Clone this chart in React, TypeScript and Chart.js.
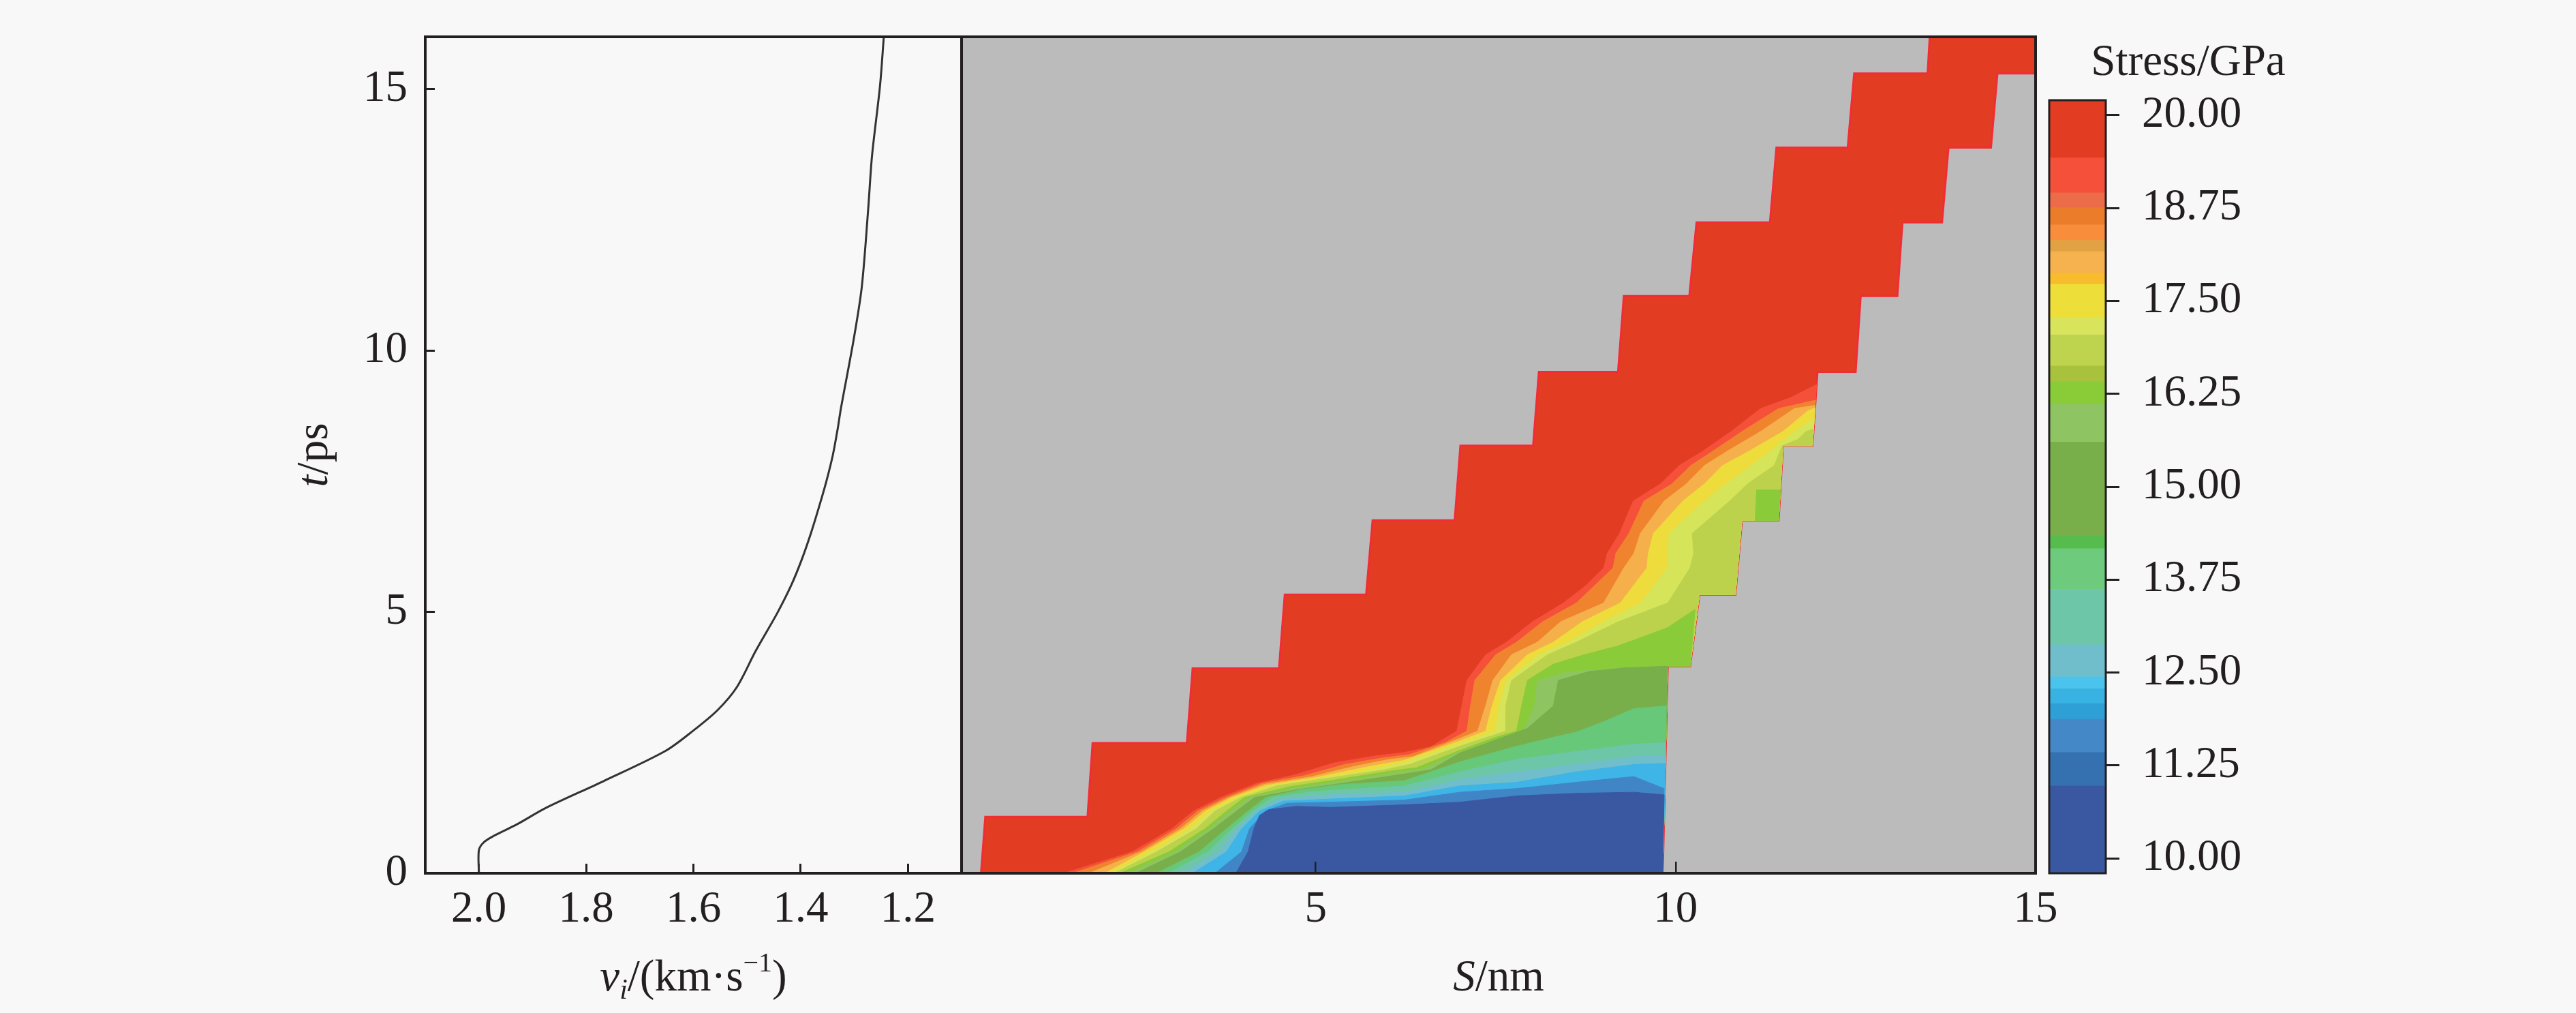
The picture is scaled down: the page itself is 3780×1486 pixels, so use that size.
import React, { useEffect, useRef } from 'react';
import { Chart, registerables } from 'chart.js';

Chart.register(...registerables);

const FONT = "'Liberation Serif', 'Times New Roman', Times, serif";
const FS = 65;
const INK = '#231f20';
const PAGE_BG = '#f8f8f8';
const GRAY = '#bbbbbb';

type Pt = [number, number];

// ---------- left panel: interface velocity v_i (km/s) vs t (ps) ----------
const velocity = [2.0, 2.0, 1.991, 1.973, 1.93, 1.875, 1.768, 1.652, 1.6, 1.555, 1.519, 1.484, 1.444, 1.418, 1.398, 1.381, 1.366, 1.352, 1.34, 1.331, 1.325, 1.301, 1.286, 1.274, 1.267, 1.252, 1.245];
const velTime = [0, 0.44, 0.59, 0.71, 0.93, 1.25, 1.76, 2.34, 2.73, 3.12, 3.56, 4.25, 4.97, 5.5, 6.0, 6.5, 7.0, 7.5, 8.0, 8.5, 8.89, 10.22, 11.22, 12.72, 13.72, 15.07, 16.0];
const velTicks = [2.0, 1.8, 1.6, 1.4, 1.2];
const timeTicks = [0, 5, 10, 15];
const sTicks = [5, 10, 15];
const stressTicks = [10, 11.25, 12.5, 13.75, 15, 16.25, 17.5, 18.75, 20];

// ---------- colour bar bands (GPa) ----------
const bandHigh = [20.2, 19.43, 18.96, 18.76, 18.53, 18.32, 18.17, 17.88, 17.73, 17.28, 17.05, 16.63, 16.42, 16.12, 15.61, 14.34, 14.17, 13.62, 12.88, 12.45, 12.29, 12.09, 11.88, 11.43, 10.98];
const bandLow = [19.43, 18.96, 18.76, 18.53, 18.32, 18.17, 17.88, 17.73, 17.28, 17.05, 16.63, 16.42, 16.12, 15.61, 14.34, 14.17, 13.62, 12.88, 12.45, 12.29, 12.09, 11.88, 11.43, 10.98, 9.8];
const bandColors = ['#E23D22', '#F5503A', '#EC6C4A', '#EA7C2A', '#F88E3C', '#E2A244', '#F6B24E', '#F8BC2C', '#EEDE3A', '#D8E45C', '#BFD44E', '#A9C23E', '#8ACB38', '#8EC562', '#79AF4B', '#56BC4E', '#6ECB7E', '#6EC6A8', '#70BECB', '#4AC4EC', '#38B2E2', '#2FA0D6', '#4488C8', '#3570B0', '#3A58A2'];

// ---------- stress map: material region (S nm, t ps) ----------
const materialRegion: Pt[] = [
  [0.35, 0], [0.41, 1.08], [1.83, 1.08], [1.90, 2.49], [3.21, 2.49], [3.29, 3.92], [4.49, 3.92], [4.57, 5.33],
  [5.70, 5.33], [5.79, 6.75], [6.93, 6.75], [7.01, 8.18], [8.02, 8.18], [8.10, 9.59], [9.20, 9.59], [9.28, 11.04],
  [10.19, 11.04], [10.29, 12.45], [11.31, 12.45], [11.40, 13.88], [12.39, 13.88], [12.48, 15.30], [13.50, 15.30],
  [13.53, 16], [15, 16], [15, 15.30], [14.47, 15.30], [14.38, 13.88], [13.79, 13.88], [13.70, 12.45], [13.15, 12.45],
  [13.08, 11.04], [12.57, 11.04], [12.50, 9.59], [11.97, 9.59], [11.90, 8.18], [11.49, 8.18], [11.43, 6.75],
  [10.92, 6.75], [10.83, 5.33], [10.33, 5.33], [10.20, 3.96], [9.89, 3.96], [9.82, 0],
];
const rightBoundary: Pt[] = [
  [11.97, 9.59], [11.90, 8.18], [11.49, 8.18], [11.43, 6.75], [10.92, 6.75], [10.83, 5.33], [10.33, 5.33], [10.20, 3.96], [9.89, 3.96], [9.82, 0],
];

// contour lines (lower-right side = lower stress)
const cRedOrange: Pt[] = [[1.50, 0], [2.45, 0.41], [3.0, 0.85], [3.30, 1.19], [3.68, 1.45], [4.18, 1.72], [4.73, 1.89], [5.25, 2.11], [5.8, 2.24], [6.23, 2.31], [6.6, 2.42], [6.96, 2.72], [7.03, 3.20], [7.10, 3.69], [7.36, 4.18], [7.65, 4.42], [8.01, 4.81], [8.44, 5.17], [8.75, 5.5], [9.0, 5.84], [9.05, 6.12], [9.22, 6.5], [9.41, 7.12], [9.79, 7.45], [10.05, 7.80], [10.36, 8.06], [10.77, 8.45], [11.18, 8.89], [11.6, 9.1], [11.958, 9.35]];
const cOrange: Pt[] = [[1.62, 0], [2.52, 0.41], [3.06, 0.85], [3.36, 1.19], [3.75, 1.45], [4.25, 1.72], [4.85, 1.87], [5.4, 2.08], [5.9, 2.2], [6.3, 2.27], [6.8, 2.5], [7.10, 2.72], [7.15, 3.20], [7.21, 3.69], [7.5, 4.18], [7.79, 4.42], [8.15, 4.81], [8.62, 5.17], [9.13, 5.84], [9.17, 6.12], [9.35, 6.5], [9.56, 7.12], [9.95, 7.45], [10.21, 7.80], [10.5, 8.06], [10.92, 8.45], [11.43, 8.89], [11.943, 9.05]];
const cLightOrange: Pt[] = [[1.85, 0], [2.58, 0.41], [3.12, 0.85], [3.42, 1.19], [3.80, 1.45], [4.28, 1.70], [4.95, 1.85], [5.55, 2.05], [6.0, 2.17], [6.35, 2.23], [7.0, 2.58], [7.25, 2.72], [7.36, 3.20], [7.46, 3.69], [7.72, 4.18], [8.08, 4.42], [8.4, 4.81], [9.0, 5.17], [9.28, 5.84], [9.42, 6.12], [9.51, 6.5], [9.84, 7.12], [10.15, 7.45], [10.40, 7.80], [10.7, 8.06], [11.18, 8.45], [11.65, 8.89], [11.938, 8.95]];
const cYellow: Pt[] = [[2.07, 0], [2.62, 0.41], [3.17, 0.85], [3.47, 1.19], [3.84, 1.45], [4.31, 1.68], [5.03, 1.84], [5.7, 2.03], [6.23, 2.16], [7.0, 2.53], [7.36, 2.72], [7.45, 3.20], [7.57, 3.69], [7.94, 4.18], [8.30, 4.42], [8.7, 4.81], [9.23, 5.17], [9.60, 5.84], [9.62, 6.12], [9.69, 6.5], [10.1, 7.12], [10.4, 7.45], [10.65, 7.80], [11.0, 8.06], [11.49, 8.45], [11.84, 8.85], [11.936, 8.9]];
const cLightYellowGreen: Pt[] = [[2.15, 0], [2.72, 0.41], [3.26, 0.85], [3.55, 1.19], [3.92, 1.45], [4.40, 1.68], [5.12, 1.83], [5.85, 2.0], [6.23, 2.12], [7.0, 2.48], [7.5, 2.72], [7.55, 3.20], [7.65, 3.69], [8.10, 4.18], [8.51, 4.42], [9.0, 4.81], [9.52, 5.17], [9.88, 5.84], [9.89, 6.12], [9.91, 6.5], [10.4, 7.12], [10.7, 7.45], [11.05, 7.80], [11.3, 8.06], [11.65, 8.45], [11.926, 8.7]];
const cYellowGreen: Pt[] = [[2.20, 0], [2.79, 0.41], [3.34, 0.85], [3.60, 1.19], [3.96, 1.45], [4.48, 1.68], [5.18, 1.82], [5.95, 1.98], [6.3, 2.08], [7.0, 2.43], [7.64, 2.72], [7.64, 3.20], [7.72, 3.69], [8.22, 4.18], [8.62, 4.42], [9.2, 4.81], [9.89, 5.17], [10.2, 5.84], [10.25, 6.12], [10.23, 6.5], [10.75, 7.12], [11.0, 7.45], [11.37, 7.80], [11.48, 8.18], [11.7, 8.3], [11.81, 8.45], [11.916, 8.5]];
const cGreen: Pt[] = [[2.28, 0], [2.96, 0.41], [3.46, 0.85], [3.76, 1.19], [4.01, 1.45], [4.65, 1.66], [5.24, 1.78], [6.0, 1.95], [6.4, 2.02], [7.0, 2.35], [7.5, 2.6], [7.79, 2.72], [7.86, 3.20], [7.94, 3.69], [8.3, 4.0], [8.73, 4.18], [9.2, 4.35], [9.6, 4.55], [9.89, 4.7], [10.27, 5.05]];
const cGreenCell: Pt[] = [[11.10, 6.75], [11.43, 6.75], [11.455, 7.33], [11.12, 7.33]];
const cMidLightGreen: Pt[] = [[2.4, 0], [3.05, 0.41], [3.52, 0.85], [3.82, 1.19], [4.08, 1.45], [4.7, 1.63], [5.3, 1.75], [6.1, 1.92], [6.5, 2.0], [7.0, 2.32], [7.5, 2.55], [7.88, 2.72], [8.04, 3.20], [8.08, 3.69], [8.5, 3.85], [9.2, 3.92], [9.89, 3.96]];
const cMidGreen: Pt[] = [[2.5, 0], [3.12, 0.41], [3.58, 0.85], [3.9, 1.19], [4.15, 1.45], [4.75, 1.6], [5.36, 1.72], [6.23, 1.9], [6.6, 1.98], [7.0, 2.3], [7.6, 2.6], [7.94, 2.77], [8.3, 3.2], [8.37, 3.69], [8.8, 3.86], [9.3, 3.93], [9.89, 3.96]];
const cTealGreen: Pt[] = [[2.79, 0], [3.38, 0.41], [3.76, 0.85], [4.06, 1.19], [4.31, 1.45], [4.8, 1.6], [5.36, 1.70], [6.23, 1.77], [7.0, 2.13], [7.79, 2.43], [8.3, 2.6], [8.62, 2.7], [9.0, 2.9], [9.42, 3.15], [9.87, 3.2]];
const cTeal: Pt[] = [[2.95, 0], [3.5, 0.41], [3.84, 0.85], [4.12, 1.19], [4.4, 1.45], [4.9, 1.55], [5.36, 1.6], [6.23, 1.67], [7.0, 1.94], [7.79, 2.18], [8.62, 2.33], [9.42, 2.47], [9.86, 2.5]];
const cLightBlue: Pt[] = [[3.15, 0], [3.65, 0.41], [3.90, 0.85], [4.18, 1.19], [4.5, 1.42], [5.2, 1.5], [6.23, 1.55], [7.0, 1.79], [7.79, 1.94], [8.62, 2.08], [9.42, 2.23], [9.86, 2.25]];
const cCyan: Pt[] = [[3.29, 0], [3.76, 0.41], [3.97, 0.85], [4.22, 1.19], [4.55, 1.38], [5.2, 1.42], [6.23, 1.48], [7.0, 1.67], [7.79, 1.74], [8.62, 1.94], [9.42, 2.08], [9.86, 2.1]];
const cBlue: Pt[] = [[3.6, 0], [3.97, 0.41], [4.08, 0.85], [4.30, 1.19], [4.6, 1.34], [5.2, 1.36], [6.23, 1.40], [7.0, 1.55], [7.79, 1.62], [8.62, 1.74], [9.42, 1.85], [9.84, 1.62]];
const cDarkBlue: Pt[] = [[3.89, 0], [4.06, 0.41], [4.14, 0.85], [4.22, 1.11], [4.35, 1.22], [4.73, 1.28], [5.2, 1.26], [6.23, 1.31], [7.0, 1.36], [7.79, 1.48], [8.62, 1.53], [9.42, 1.55], [9.84, 1.50]];

const contourLayers: { pts: Pt[]; color: string; closed?: boolean }[] = [
  { pts: cRedOrange, color: '#F5503A' },
  { pts: cOrange, color: '#F0842E' },
  { pts: cLightOrange, color: '#F5B04C' },
  { pts: cYellow, color: '#EDDC3C' },
  { pts: cLightYellowGreen, color: '#D6E45A' },
  { pts: cYellowGreen, color: '#BDD24C' },
  { pts: cGreen, color: '#8ACB3A' },
  { pts: cGreenCell, color: '#8ACB3A', closed: true },
  { pts: cMidLightGreen, color: '#8EC562' },
  { pts: cMidGreen, color: '#79AF4B' },
  { pts: cTealGreen, color: '#66C878' },
  { pts: cTeal, color: '#6EC6A8' },
  { pts: cLightBlue, color: '#70BECB' },
  { pts: cCyan, color: '#3FB4E6' },
  { pts: cBlue, color: '#4086C6' },
  { pts: cDarkBlue, color: '#3A58A2' },
];

const toXY = (pts: Pt[]) => pts.map(([x, y]) => ({ x, y }));

function bandPolygon(contour: Pt[]): Pt[] {
  const endT = contour[contour.length - 1][1];
  return [...contour, ...rightBoundary.filter((p) => p[1] < endT - 1e-6)];
}

type Part = { text: string; italic?: boolean; size?: number; dy?: number };
function fontOf(p: Part) {
  return `${p.italic ? 'italic ' : ''}${p.size || FS}px ${FONT}`;
}
function drawRich(ctx: CanvasRenderingContext2D, parts: Part[], cx: number, baseline: number) {
  let total = 0;
  const widths = parts.map((p) => {
    ctx.font = fontOf(p);
    const w = ctx.measureText(p.text).width;
    total += w;
    return w;
  });
  let x = cx - total / 2;
  ctx.textAlign = 'left';
  ctx.textBaseline = 'alphabetic';
  parts.forEach((p, i) => {
    ctx.font = fontOf(p);
    ctx.fillText(p.text, x, baseline + (p.dy || 0));
    x += widths[i];
  });
}

const framePlugin = (lw: number) => ({
  id: 'frame',
  afterDraw(chart: any) {
    const { ctx, chartArea: a } = chart;
    ctx.save();
    ctx.strokeStyle = INK;
    ctx.lineWidth = lw;
    ctx.strokeRect(a.left, a.top, a.right - a.left, a.bottom - a.top);
    ctx.restore();
  },
});

const noPad = (s: any) => {
  s.paddingTop = 0;
  s.paddingBottom = 0;
  s.paddingLeft = 0;
  s.paddingRight = 0;
};

const tickFont = { family: FONT, size: FS };

export default function App() {
  const leftRef = useRef<HTMLCanvasElement>(null);
  const mainRef = useRef<HTMLCanvasElement>(null);
  const barRef = useRef<HTMLCanvasElement>(null);

  useEffect(() => {
    document.body.style.margin = '0';
    document.body.style.background = PAGE_BG;
    Chart.defaults.font.family = FONT;
    Chart.defaults.color = INK;
    const charts: Chart[] = [];

    // ---- left panel ----
    charts.push(
      new Chart(leftRef.current as HTMLCanvasElement, {
        type: 'scatter',
        data: {
          datasets: [
            {
              data: velocity.map((v, i) => ({ x: v, y: velTime[i] })),
              showLine: true,
              borderColor: '#333333',
              borderWidth: 3,
              pointRadius: 0,
              tension: 0.3,
              fill: false,
            } as any,
          ],
        },
        options: {
          responsive: false,
          animation: false,
          devicePixelRatio: 1,
          events: [],
          layout: { padding: { left: 0, right: 9, top: 54, bottom: 0 } },
          plugins: { legend: { display: false }, tooltip: { enabled: false } },
          scales: {
            x: {
              type: 'linear',
              reverse: true,
              min: 1.1,
              max: 2.1,
              afterBuildTicks: (s: any) => { s.ticks = velTicks.map((v) => ({ value: v })); },
              afterFit: (s: any) => { s.height = 205; noPad(s); },
              ticks: { font: tickFont, color: INK, padding: 29, maxRotation: 0, autoSkip: false, callback: (v: any) => Number(v).toFixed(1) },
              grid: { drawOnChartArea: false, drawTicks: true, tickLength: -14, color: INK, lineWidth: 3 },
              border: { display: false },
            },
            y: {
              type: 'linear',
              min: 0,
              max: 16,
              afterBuildTicks: (s: any) => { s.ticks = timeTicks.map((v) => ({ value: v })); },
              afterFit: (s: any) => { s.width = 624; noPad(s); },
              ticks: { font: tickFont, color: INK, padding: 40, autoSkip: false, callback: (v: any) => String(v) },
              grid: { drawOnChartArea: false, drawTicks: true, tickLength: -14, color: INK, lineWidth: 3 },
              border: { display: false },
            },
          },
        } as any,
        plugins: [
          framePlugin(4),
          {
            id: 'leftTitles',
            afterDraw(chart: any) {
              const { ctx, chartArea: a } = chart;
              ctx.save();
              ctx.fillStyle = INK;
              drawRich(ctx, [
                { text: 'v', italic: true },
                { text: 'i', italic: true, size: 42, dy: 12 },
                { text: '/(km·s' },
                { text: '−1', size: 40, dy: -28 },
                { text: ')' },
              ], (a.left + a.right) / 2, 1453);
              ctx.translate(480, (a.top + a.bottom) / 2);
              ctx.rotate(-Math.PI / 2);
              drawRich(ctx, [{ text: 't', italic: true }, { text: '/ps' }], 0, 0);
              ctx.restore();
            },
          },
        ],
      } as any)
    );

    // ---- stress map ----
    const layers = [
      { pts: materialRegion, color: '#E23D22', border: '#F22C34', bw: 3 },
      ...contourLayers.map((l) => ({ pts: l.closed ? l.pts : bandPolygon(l.pts), color: l.color, border: l.color, bw: 1 })),
    ];
    const datasets = layers
      .map((l) => ({
        data: toXY(l.pts),
        showLine: true,
        fill: 'shape',
        backgroundColor: l.color,
        borderColor: l.border,
        borderWidth: l.bw,
        pointRadius: 0,
        tension: 0,
      }))
      .reverse();

    charts.push(
      new Chart(mainRef.current as HTMLCanvasElement, {
        type: 'scatter',
        data: { datasets: datasets as any },
        options: {
          responsive: false,
          animation: false,
          devicePixelRatio: 1,
          events: [],
          layout: { padding: { left: 11, right: 63, top: 54, bottom: 0 } },
          plugins: { legend: { display: false }, tooltip: { enabled: false } },
          scales: {
            x: {
              type: 'linear',
              min: 0.08,
              max: 15,
              afterBuildTicks: (s: any) => { s.ticks = sTicks.map((v) => ({ value: v })); },
              afterFit: (s: any) => { s.height = 205; noPad(s); },
              ticks: { font: tickFont, color: INK, padding: 32, maxRotation: 0, autoSkip: false, callback: (v: any) => String(v) },
              grid: { z: 1, drawOnChartArea: false, drawTicks: true, tickLength: -17, color: INK, lineWidth: 2.5 },
              border: { display: false },
            },
            y: { type: 'linear', min: 0, max: 16, display: false },
          },
        } as any,
        plugins: [
          {
            id: 'grayBg',
            beforeDraw(chart: any) {
              const { ctx, chartArea: a } = chart;
              ctx.save();
              ctx.fillStyle = GRAY;
              ctx.fillRect(a.left, a.top, a.right - a.left, a.bottom - a.top);
              ctx.restore();
            },
          },
          framePlugin(4),
          {
            id: 'sTitle',
            afterDraw(chart: any) {
              const { ctx, chartArea: a } = chart;
              ctx.save();
              ctx.fillStyle = INK;
              drawRich(ctx, [{ text: 'S', italic: true }, { text: '/nm' }], (a.left + a.right) / 2, 1453);
              ctx.restore();
            },
          },
        ],
      } as any)
    );

    // ---- colour bar ----
    charts.push(
      new Chart(barRef.current as HTMLCanvasElement, {
        type: 'bar',
        data: {
          labels: ['Stress'],
          datasets: bandColors.map((c, i) => ({
            data: [[bandLow[i], bandHigh[i]]],
            backgroundColor: c,
            borderWidth: 0,
            grouped: false,
            barPercentage: 1,
            categoryPercentage: 1,
          })) as any,
        },
        options: {
          responsive: false,
          animation: false,
          devicePixelRatio: 1,
          events: [],
          layout: { padding: { left: 17, right: 0, top: 147, bottom: 205 } },
          plugins: { legend: { display: false }, tooltip: { enabled: false } },
          scales: {
            x: { display: false },
            y: {
              position: 'right',
              min: 9.8,
              max: 20.2,
              afterBuildTicks: (s: any) => { s.ticks = stressTicks.map((v) => ({ value: v })); },
              afterFit: (s: any) => { s.width = 690; noPad(s); },
              ticks: { font: tickFont, color: INK, padding: 33, autoSkip: false, callback: (v: any) => Number(v).toFixed(2) },
              grid: { drawOnChartArea: false, drawTicks: true, tickLength: 20, color: INK, lineWidth: 3 },
              border: { display: false },
            },
          },
        } as any,
        plugins: [
          framePlugin(3),
          {
            id: 'cbTitle',
            afterDraw(chart: any) {
              const { ctx } = chart;
              ctx.save();
              ctx.fillStyle = INK;
              drawRich(ctx, [{ text: 'Stress/GPa' }], 221, 110);
              ctx.restore();
            },
          },
        ],
      } as any)
    );

    return () => charts.forEach((c) => c.destroy());
  }, []);

  const abs = (left: number, w: number): React.CSSProperties => ({ position: 'absolute', left, top: 0, width: w, height: 1486 });
  return (
    <div style={{ position: 'relative', width: 3780, height: 1486, background: PAGE_BG, overflow: 'hidden' }}>
      <canvas ref={leftRef} width={1420} height={1486} style={abs(0, 1420)} />
      <canvas ref={mainRef} width={1650} height={1486} style={abs(1400, 1650)} />
      <canvas ref={barRef} width={790} height={1486} style={abs(2990, 790)} />
    </div>
  );
}
